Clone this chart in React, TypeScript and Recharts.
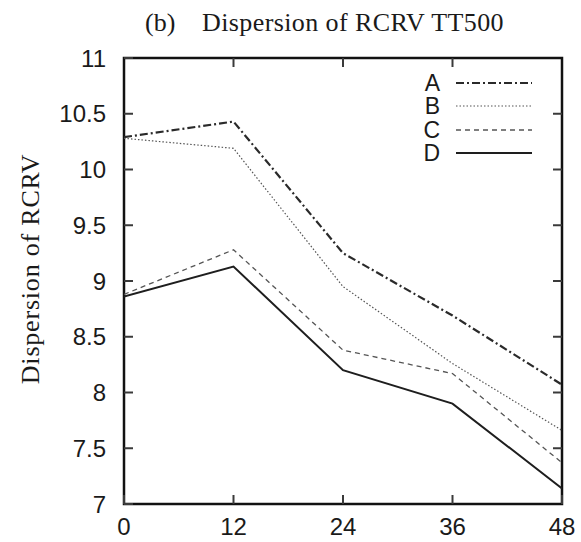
import React from 'react';
import { LineChart, Line, XAxis, YAxis, Legend, ReferenceArea } from 'recharts';

const hours = [0, 12, 24, 36, 48];
const seriesA = [10.29, 10.43, 9.25, 8.69, 8.07];
const seriesB = [10.28, 10.19, 8.95, 8.26, 7.66];
const seriesC = [8.88, 9.28, 8.38, 8.17, 7.37];
const seriesD = [8.86, 9.13, 8.2, 7.9, 7.14];
const xTicks = [0, 12, 24, 36, 48];
const yTicks = [7, 7.5, 8, 8.5, 9, 9.5, 10, 10.5, 11];
const seriesNames = ['A', 'B', 'C', 'D'];
const titleText = '(b)';
const titleMain = 'Dispersion of RCRV TT500';
const yLabel = 'Dispersion of RCRV';

const styles: Record<string, { stroke: string; width: number; dash?: string }> = {
  A: { stroke: '#2a2a2a', width: 2.2, dash: '8 3 2 3' },
  B: { stroke: '#555', width: 1.2, dash: '1.5 2' },
  C: { stroke: '#555', width: 1.3, dash: '5 4' },
  D: { stroke: '#1e1e1e', width: 2 },
};

const data = hours.map((h, i) => ({
  h,
  A: seriesA[i],
  B: seriesB[i],
  C: seriesC[i],
  D: seriesD[i],
}));

const W = 581;
const H = 542;
const MARGIN = { top: 58, right: 19, bottom: 8, left: 64 };
const FONT = '"Liberation Sans", Arial, sans-serif';
const TICK_LEN = 9;
const TICK_COLOR = '#3a3a3a';
const X_MARGIN = 14;
const Y_MARGIN = 18;
const PLOT_TOP = MARGIN.top;
const PLOT_RIGHT = W - MARGIN.right;

const isInner = (v: number, list: number[]) => v !== list[0] && v !== list[list.length - 1];

const BottomTick = (p: any) => {
  const { x, y, payload } = p;
  const ay = y - X_MARGIN;
  const inner = isInner(Number(payload.value), xTicks);
  return (
    <g>
      <line x1={x} x2={x} y1={ay} y2={ay - TICK_LEN} stroke={TICK_COLOR} strokeWidth={2} />
      {inner && <line x1={x} x2={x} y1={PLOT_TOP} y2={PLOT_TOP + TICK_LEN} stroke={TICK_COLOR} strokeWidth={2} />}
      <text x={x} y={y} dy="0.71em" textAnchor="middle" fontSize={24} fontFamily={FONT} fill="#1a1a1a">
        {payload.value}
      </text>
    </g>
  );
};

const LeftTick = (p: any) => {
  const { x, y, payload } = p;
  const ax = x + Y_MARGIN;
  const inner = isInner(Number(payload.value), yTicks);
  return (
    <g>
      <line x1={ax} x2={ax + TICK_LEN} y1={y} y2={y} stroke={TICK_COLOR} strokeWidth={2} />
      {inner && <line x1={PLOT_RIGHT} x2={PLOT_RIGHT - TICK_LEN} y1={y} y2={y} stroke={TICK_COLOR} strokeWidth={2} />}
      <text x={x} y={y} dy="0.355em" textAnchor="end" fontSize={24} fontFamily={FONT} fill="#1a1a1a">
        {payload.value}
      </text>
    </g>
  );
};

const LegendContent = () => (
  <div style={{ fontFamily: FONT }}>
    {seriesNames.map((n) => {
      const s = styles[n];
      return (
        <div key={n} style={{ display: 'flex', alignItems: 'center', height: 23.5, overflow: 'visible' }}>
          <span style={{ width: 60, textAlign: 'right', fontSize: 23, color: '#1a1a1a', lineHeight: '22px' }}>{n}</span>
          <svg width={92} height={10}>
            <line x1={16} x2={92} y1={5} y2={5} stroke={s.stroke} strokeWidth={s.width} strokeDasharray={s.dash} />
          </svg>
        </div>
      );
    })}
  </div>
);

export default function App() {
  return (
    <div style={{ position: 'absolute', left: 0, top: 0, width: W, height: H, background: '#fff' }}>
      <LineChart width={W} height={H} data={data} margin={MARGIN}>
        <XAxis
          dataKey="h"
          type="number"
          domain={[0, 48]}
          allowDataOverflow
          ticks={xTicks}
          interval={0}
          tickLine={false}
          tickSize={0}
          tickMargin={X_MARGIN}
          height={30}
          axisLine={false}
          tick={BottomTick}
        />
        <YAxis
          type="number"
          domain={[7, 11]}
          allowDataOverflow
          ticks={yTicks}
          interval={0}
          width={60}
          tickLine={false}
          tickSize={0}
          tickMargin={Y_MARGIN}
          axisLine={false}
          tick={LeftTick}
        />
        <Legend
          layout="vertical"
          align="center"
          verticalAlign="middle"
          content={<LegendContent />}
          wrapperStyle={{ top: 71, left: 380, width: 170, height: 96 }}
        />
        {seriesNames.map((n) => (
          <Line
            key={n}
            type="linear"
            dataKey={n}
            stroke={styles[n].stroke}
            strokeWidth={styles[n].width}
            strokeDasharray={styles[n].dash}
            dot={false}
            activeDot={false}
            isAnimationActive={false}
          />
        ))}
        <ReferenceArea
          x1={0}
          x2={48}
          y1={7}
          y2={11}
          fill="none"
          fillOpacity={0}
          stroke="#111"
          strokeOpacity={1}
          strokeWidth={2.5}
          ifOverflow="visible"
        />
      </LineChart>
      <svg width={W} height={H} style={{ position: 'absolute', left: 0, top: 0, pointerEvents: 'none' }}>
        <text x={145} y={31} fontSize={26} fontFamily='"Liberation Serif", "Times New Roman", serif' fill="#1a1a1a">
          {titleText}
        </text>
        <text x={202} y={31} fontSize={26} letterSpacing={0.4} fontFamily='"Liberation Serif", "Times New Roman", serif' fill="#1a1a1a">
          {titleMain}
        </text>
        <text
          x={30}
          y={269}
          transform="rotate(-90 30 269)"
          textAnchor="middle"
          dominantBaseline="central"
          fontSize={26}
          letterSpacing={0.8}
          fontFamily='"Liberation Serif", "Times New Roman", serif'
          fill="#1a1a1a"
        >
          {yLabel}
        </text>
      </svg>
    </div>
  );
}
